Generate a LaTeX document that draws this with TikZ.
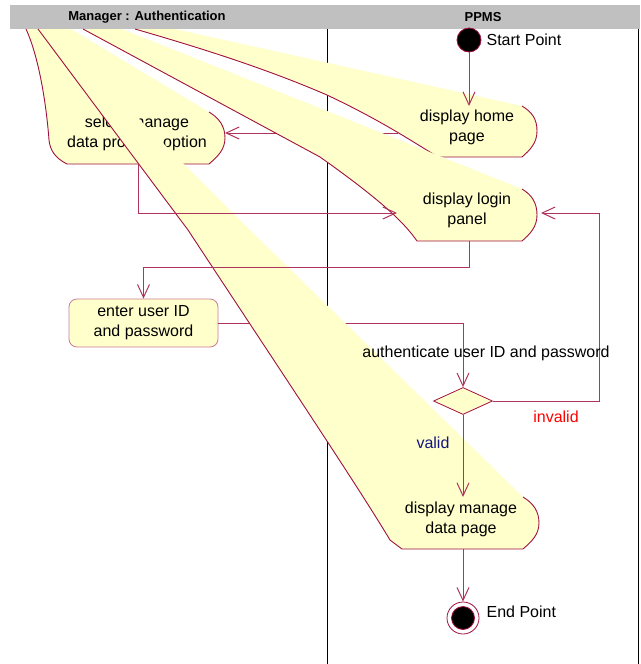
\documentclass[tikz,border=0pt]{standalone}
\usepackage{fontspec}
\setmainfont{Liberation Sans}
\usetikzlibrary{arrows.meta,shapes.geometric,positioning}
\definecolor{umlred}{RGB}{160,16,64}
\definecolor{umlfill}{RGB}{255,255,204}
\definecolor{lanegray}{RGB}{192,192,192}
\definecolor{validblue}{RGB}{20,20,130}
\tikzset{
	link/.style={umlred!85,line width=1pt,-{Straight Barb[length=13pt,width=12pt]}},
	edge/.style={umlred,line width=0.9pt},
	head/.style={font=\fontsize{13}{15}\selectfont\bfseries,inner sep=0pt},
	txt/.style={font=\fontsize{16}{20}\selectfont,align=center,inner sep=0pt},
	lbl/.style={font=\fontsize{16}{20}\selectfont,inner sep=0pt},
	actbox/.style={txt,draw=umlred!55,fill=umlfill,rounded corners=8pt,minimum width=149pt,minimum height=48pt,line width=0.8pt},
	decision/.style={diamond,draw=umlred,fill=umlfill,line width=0.8pt,minimum width=59pt,minimum height=27pt,inner sep=0pt,aspect=2.2},
	startdot/.style={circle,draw=umlred,fill=black,minimum size=24pt,inner sep=0pt,line width=0.8pt},
	enddot/.style={circle,draw=umlred,fill=white,minimum size=32pt,inner sep=0pt,line width=0.8pt}
}
\begin{document}
\begin{tikzpicture}[x=1pt,y=-1pt]
		\useasboundingbox (0,0) rectangle (640,664);
		% swimlanes
		\fill[lanegray] (10,5) rectangle (640,29);
		\node[head] (lane1) at (147,17) {Manager : Authentication};
		\node[head] (lane2) at (483,17) {PPMS};
		\draw[black] (327,29) -- (327,664);
		\draw[black] (638.5,29) -- (638.5,664);
		% ends of the transitions on the states
		\coordinate (homeN) at (469,106);
		\coordinate (homeW) at (398,133);
		\coordinate (selE) at (225,133);
		\coordinate (selS) at (138,164);
		\coordinate (loginW) at (397,213);
		\coordinate (loginE) at (541,213);
		\coordinate (loginS) at (469,241);
		\coordinate (manN) at (463,497);
		\coordinate (manS) at (463,549);
		\node[actbox] (enter) at (143.5,323) {enter user ID\\and password};
		\node[decision] (dec) at (463,401) {};
		\node[startdot] (start) at (469,40) {};
		\node[enddot] (stop) at (463,618) {};
		\node[startdot,minimum size=23pt] (stopdot) at (stop) {};
		% these two run under the states
		\draw[link] (homeW) -- (selE);
		\draw[link] (enter.east) -| (dec.north);
		% select manage data process option
		\fill[umlfill] (26,29) -- (71,29) -- (209,112) .. controls +(10,6) and +(0,-12) .. (225,138) .. controls +(0,12) and +(8,-7) .. (209,164) -- (67,164) .. controls (55,158) and (50,150) .. (49,140) .. controls (46,100) and (38,55) .. (26,29) -- cycle;
		\draw[edge] (209,112) .. controls +(10,6) and +(0,-12) .. (225,138) .. controls +(0,12) and +(8,-7) .. (209,164) -- (67,164) .. controls (55,158) and (50,150) .. (49,140) .. controls (46,100) and (38,55) .. (26,29);
		\node[txt] (seltxt) at (137,133) {select manage\\data process option};
		% display home page
		\fill[umlfill] (135,29) -- (175,29) -- (522,106) .. controls +(10,6) and +(0,-12) .. (537,131) .. controls +(0,12) and +(8,-7) .. (522,157) -- (438,157) .. controls (410,140) and (380,120) .. (327,95) .. controls (260,66) and (190,45) .. (135,29) -- cycle;
		\draw[edge] (522,106) .. controls +(10,6) and +(0,-12) .. (537,131) .. controls +(0,12) and +(8,-7) .. (522,157) -- (438,157) .. controls (410,140) and (380,120) .. (327,95) .. controls (260,66) and (190,45) .. (135,29);
		% display login panel
		\fill[umlfill] (83,29) -- (122,29) -- (522,189) .. controls +(10,6) and +(0,-12) .. (537,215) .. controls +(0,12) and +(8,-7) .. (522,241) -- (417,241) .. controls (405,224) and (385,203) .. (320,157) -- cycle;
		\draw[edge] (522,189) .. controls +(10,6) and +(0,-12) .. (537,215) .. controls +(0,12) and +(8,-7) .. (522,241) -- (417,241) .. controls (405,224) and (385,203) .. (320,157) -- (83,29);
		% display manage data page
		\fill[umlfill] (38,29) -- (55,29) -- (141,121) -- (163,143) -- (183,163) -- (250,230) -- (523,497) .. controls +(10,6) and +(0,-12) .. (539,523) .. controls +(0,12) and +(8,-7) .. (523,549) -- (402,549) -- (390,540) .. controls (360,490) and (300,400) .. (188,230) -- cycle;
		\draw[edge] (523,497) .. controls +(10,6) and +(0,-12) .. (539,523) .. controls +(0,12) and +(8,-7) .. (523,549) -- (402,549) -- (390,540) .. controls (360,490) and (300,400) .. (188,230) -- (38,29);
		\node[txt] (hometxt) at (467,127) {display home\\page};
		\node[txt] (logintxt) at (467,210) {display login\\panel};
		\node[txt] (mantxt) at (461,519) {display manage\\data page};
		% transitions
		\draw[link] (start) -- (homeN);
		\draw[link] (selS) |- (loginW);
		\draw[link] (loginS) -- ++(0,26) -| (enter.north);
		\draw[link] (dec.east) -- ++(107,0) |- (loginE);
		\draw[link] (dec.south) -- (manN);
		\draw[link] (manS) -- (stop);
		\node[lbl,right=5pt of start] (startlbl) {Start Point};
		\node[lbl,right=7pt of stop,yshift=6pt] (stoplbl) {End Point};
		\node[lbl] (authlbl) at (486,353) {authenticate user ID and password};
		\node[lbl,text=red] (invalidlbl) at (556,417) {invalid};
		\node[lbl,text=validblue] (validlbl) at (433,443) {valid};
\end{tikzpicture}
\end{document}
